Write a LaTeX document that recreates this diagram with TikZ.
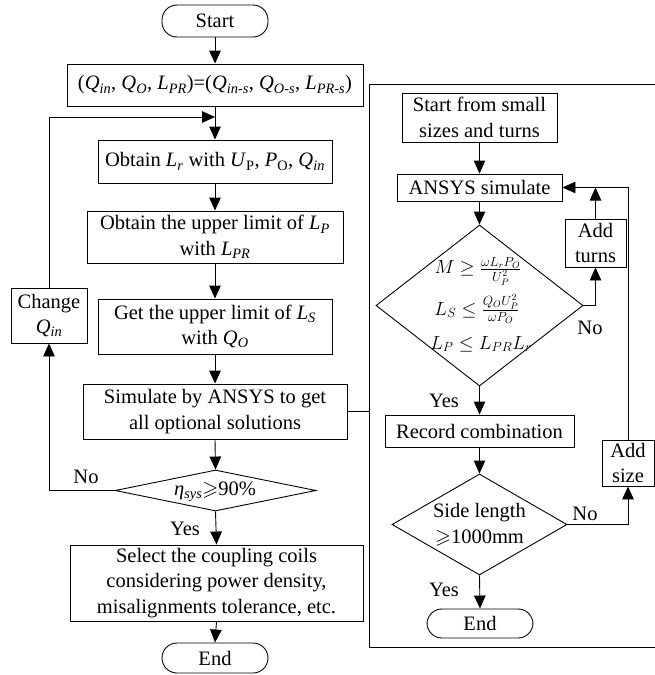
\documentclass[tikz,border=0pt]{standalone}
\usepackage{fix-cm}
\usepackage{amssymb}
\usepackage{fontspec}
\setmainfont{Liberation Serif}
\usetikzlibrary{arrows.meta,shapes.geometric}
\newcommand{\qv}[2]{\textit{#1}\textsubscript{\textit{#2}}}
\newcommand{\mainfs}{\fontsize{20.5}{25.5}\selectfont}
\newcommand{\mathfs}{\fontsize{19}{22}\selectfont}
\begin{document}
\begin{tikzpicture}[x=1pt,y=-1pt,
  line width=0.9pt,
  box/.style={draw, line width=0.9pt, inner sep=0pt, align=center, font=\mainfs},
  term/.style={box, rounded corners=15pt},
  dia/.style={draw, line width=0.9pt, diamond, inner sep=0pt},
  txt/.style={inner sep=0pt, align=center, font=\mainfs},
  mtxt/.style={inner sep=0pt, align=center, font=\mathfs},
  lbl/.style={inner sep=0pt, font=\mainfs},
  arr/.style={-{Triangle[length=13pt,width=11.5pt]}},
]
\useasboundingbox (0,0) rectangle (655,675);

% ---------- left column ----------
\node[term, minimum width=106pt, minimum height=32pt] (start) at (215,21) {Start};
\node[box, minimum width=296pt, minimum height=42pt] (b1) at (215,85)
  {(\qv{Q}{in}, \qv{Q}{O}, \qv{L}{PR})=(\qv{Q}{in-s}, \qv{Q}{O-s}, \qv{L}{PR-s})};
\node[box, minimum width=234pt, minimum height=43pt] (b2) at (215,161.5)
  {Obtain \qv{L}{r} with \textit{U}\textsubscript{P}, \textit{P}\textsubscript{O}, \qv{Q}{in}};
\node[box, minimum width=256pt, minimum height=52pt] (b3) at (215,237)
  {Obtain the upper limit of \qv{L}{P}\\with \qv{L}{PR}};
\node[box, minimum width=234pt, minimum height=55pt] (b4) at (215,326.5)
  {Get the upper limit of \qv{L}{S}\\with \qv{Q}{O}};
\node[box, minimum width=264pt, minimum height=55pt] (b5) at (215,411.5)
  {Simulate by ANSYS to get\\all optional solutions};
\node[dia, minimum width=201pt, minimum height=41pt] (eta) at (215.5,490.5) {};
\node[txt] (etat) at (215,492) {\textit{η}\textsubscript{\textit{sys}}$\geqslant$90\%};
\node[box, minimum width=293pt, minimum height=76pt] (b6) at (216.5,583)
  {Select the coupling coils\\considering power density,\\misalignments tolerance, etc.};
\node[term, minimum width=106pt, minimum height=30pt] (end) at (215,658) {End};
\node[box, minimum width=76pt, minimum height=55pt] (chg) at (49,315.5)
  {Change\\\qv{Q}{in}};

\coordinate (j1) at (215,117);
\draw[arr] (start.south) -- (b1.north);
\draw[arr] (b1.south) -- (b2.north);
\draw[arr] (b2.south) -- (b3.north);
\draw[arr] (b3.south) -- (b4.north);
\draw[arr] (b4.south) -- (b5.north);
\draw[arr] (b5.south) -- (eta.north);
\draw[arr] (eta.south) -- (b6.north);
\draw[arr] (b6.south) -- (end.north);
\draw[arr] (eta.west) -| (chg.south);
\draw[arr] (chg.north) |- (j1);

\node[lbl] (no1) at (86,477) {No};
\node[lbl] (yes1) at (185,529) {Yes};

% ---------- right panel ----------
\coordinate (pTR) at (660,84);
\coordinate (pTL) at (369,84);
\coordinate (pBL) at (369,647);
\coordinate (pBR) at (660,647);
\draw (pTR) -- (pTL) -- (pBL) -- (pBR);
\coordinate (pl) at (369,411.5);
\draw (b5.east) -- (pl);

\node[box, minimum width=155pt, minimum height=49pt] (ss) at (479.5,117.5)
  {Start from small\\sizes and turns};
\node[box, minimum width=165pt, minimum height=27pt] (ans) at (479.5,187.5)
  {ANSYS simulate};
\node[dia, minimum width=207pt, minimum height=161pt] (big) at (479.5,305.5) {};
\node[mtxt] (m1) at (478,271) {$M \geq \frac{\omega L_r P_O}{U_P^2}$};
\node[mtxt] (m2) at (477,309) {$L_S \leq \frac{Q_O U_P^2}{\omega P_O}$};
\node[mtxt] (m3) at (481,344) {$L_P \leq L_{PR} L_r$};
\node[box, minimum width=61pt, minimum height=48pt] (addt) at (595.5,243)
  {Add\\turns};
\node[box, minimum width=189pt, minimum height=32pt] (rec) at (479.5,431)
  {Record combination};
\node[dia, minimum width=175pt, minimum height=101pt] (side) at (479.5,524.5) {};
\node[txt] (sidet) at (479.5,525) {Side length\\$\geqslant$1000mm};
\node[box, minimum width=52pt, minimum height=46pt] (adds) at (628,463)
  {Add\\size};
\node[term, minimum width=106pt, minimum height=29pt] (endr) at (480,623.5) {End};

\coordinate (j2) at (595.5,187.5);
\draw[arr] (ss.south) -- (ans.north);
\draw[arr] (ans.south) -- (big.north);
\draw[arr] (big.south) -- (rec.north);
\draw[arr] (rec.south) -- (side.north);
\draw[arr] (side.south) -- (endr.north);
\draw[arr] (big.east) -| (addt.south);
\draw[arr] (addt.north) -- (j2);
\draw[arr] (side.east) -| (adds.south);
\draw[arr] (adds.north) |- (ans.east);

\node[lbl] (no2) at (590,328) {No};
\node[lbl] (yes2) at (444,401) {Yes};
\node[lbl] (no3) at (585,514) {No};
\node[lbl] (yes3) at (444,590) {Yes};
\end{tikzpicture}
\end{document}
